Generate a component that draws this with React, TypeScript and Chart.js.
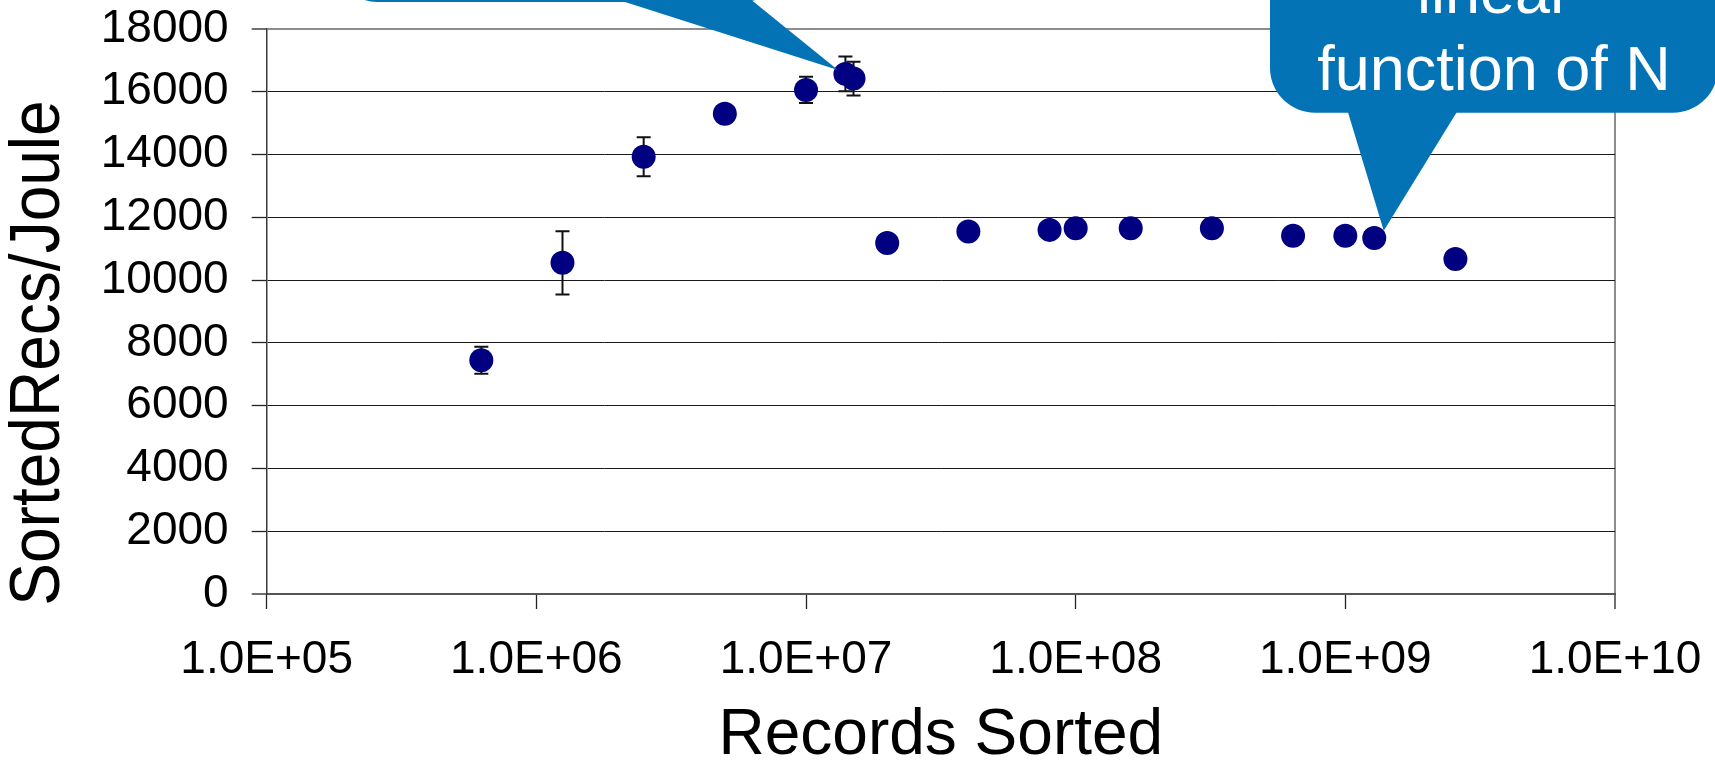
import React, { useEffect, useRef } from "react";
import { Chart, registerables } from "chart.js";

Chart.register(...registerables);

// ---- data ----
const recordsSorted = [
  6.25e5, 1.25e6, 2.5e6, 5e6, 1e7, 1.4e7, 1.5e7, 2e7, 4e7, 8e7, 1e8, 1.6e8,
  3.2e8, 6.4e8, 1e9, 1.28e9, 2.56e9,
];
const sortedRecsPerJoule = [
  7450, 10550, 13930, 15300, 16060, 16570, 16420, 11180, 11550, 11600, 11650,
  11650, 11650, 11410, 11410, 11340, 10670,
];
const errorBar = [
  430, 1010, 620, 200, 420, 550, 540, 150, 150, 150, 150, 150, 150, 150, 150,
  150, 150,
];
const xTickValues = [1e5, 1e6, 1e7, 1e8, 1e9, 1e10];
const xTickLabels = ["1.0E+05", "1.0E+06", "1.0E+07", "1.0E+08", "1.0E+09", "1.0E+10"];
const yMin = 0;
const yMax = 18000;
const yStep = 2000;
const xTitle = "Records Sorted";
const yTitle = "SortedRecs/Joule";
const calloutLines = ["linear", "function of N"];

const FONT = "'Liberation Sans', Arial, Helvetica, sans-serif";
const BLUE = "#0373B5";

function roundRect(ctx: CanvasRenderingContext2D, l: number, t: number, r: number, b: number, rad: number) {
  ctx.beginPath();
  ctx.moveTo(l + rad, t);
  ctx.lineTo(r - rad, t);
  ctx.arcTo(r, t, r, t + rad, rad);
  ctx.lineTo(r, b - rad);
  ctx.arcTo(r, b, r - rad, b, rad);
  ctx.lineTo(l + rad, b);
  ctx.arcTo(l, b, l, b - rad, rad);
  ctx.lineTo(l, t + rad);
  ctx.arcTo(l, t, l + rad, t, rad);
  ctx.closePath();
}

const errorBarPlugin = {
  id: "errorBars",
  beforeDatasetsDraw(chart: any) {
    const { ctx, scales } = chart;
    const xs = scales.x;
    const ys = scales.y;
    ctx.save();
    ctx.strokeStyle = "#111";
    ctx.lineWidth = 2;
    recordsSorted.forEach((n, i) => {
      const e = errorBar[i];
      if (!e) return;
      const px = xs.getPixelForValue(n);
      const top = ys.getPixelForValue(sortedRecsPerJoule[i] + e);
      const bot = ys.getPixelForValue(sortedRecsPerJoule[i] - e);
      ctx.beginPath();
      ctx.moveTo(px, top);
      ctx.lineTo(px, bot);
      ctx.moveTo(px - 7, top);
      ctx.lineTo(px + 7, top);
      ctx.moveTo(px - 7, bot);
      ctx.lineTo(px + 7, bot);
      ctx.stroke();
    });
    ctx.restore();
  },
};

const annotationPlugin = {
  id: "annotations",
  afterDraw(chart: any) {
    const { ctx, scales } = chart;
    const xs = scales.x;
    const ys = scales.y;
    ctx.save();

    // y axis title (rotated, slightly condensed along its length)
    ctx.fillStyle = "#000";
    ctx.font = `70px ${FONT}`;
    ctx.textAlign = "center";
    ctx.textBaseline = "middle";
    const m = ctx.measureText(yTitle);
    const ink = (m.actualBoundingBoxLeft || 0) + (m.actualBoundingBoxRight || m.width);
    const sx = 500 / ink;
    ctx.translate(40, 353);
    ctx.rotate(-Math.PI / 2);
    ctx.scale(sx, 1);
    ctx.fillText(yTitle, 0, 0);
    ctx.setTransform(1, 0, 0, 1, 0, 0);

    ctx.fillStyle = BLUE;
    // callout 1 (top-left, mostly outside the picture)
    const t1x = xs.getPixelForValue(recordsSorted[5]) - 7.5;
    const t1y = ys.getPixelForValue(sortedRecsPerJoule[5]) - 4;
    roundRect(ctx, 337, -200, 783, 2, 40);
    ctx.fill();
    ctx.beginPath();
    ctx.moveTo(600, -6);
    ctx.lineTo(744, -6);
    ctx.lineTo(t1x, t1y);
    ctx.closePath();
    ctx.fill();

    // callout 2 (top-right)
    const t2x = xs.getPixelForValue(recordsSorted[15]) + 9.5;
    const t2y = ys.getPixelForValue(sortedRecsPerJoule[15]) - 7.3;
    roundRect(ctx, 1270, -150, 1718, 112.7, 45);
    ctx.fill();
    ctx.beginPath();
    ctx.moveTo(1346.7, 108);
    ctx.lineTo(1459.3, 108);
    ctx.lineTo(t2x, t2y);
    ctx.closePath();
    ctx.fill();

    ctx.fillStyle = "#fff";
    ctx.font = `63px ${FONT}`;
    ctx.textAlign = "center";
    ctx.textBaseline = "alphabetic";
    ctx.fillText(calloutLines[0], 1494, 13);
    ctx.fillText(calloutLines[1], 1494, 90);
    ctx.restore();
  },
};

function zeroPadding(scale: any) {
  scale.paddingTop = 0;
  scale.paddingBottom = 0;
  scale.paddingLeft = 0;
  scale.paddingRight = 0;
}

export default function App() {
  const ref = useRef<HTMLCanvasElement | null>(null);

  useEffect(() => {
    if (!ref.current) return;
    const yTickCount = Math.round((yMax - yMin) / yStep);
    const chart = new Chart(ref.current, {
      type: "scatter",
      data: {
        datasets: [
          {
            label: yTitle,
            data: recordsSorted.map((n, i) => ({ x: n, y: sortedRecsPerJoule[i] })),
            backgroundColor: "#000080",
            borderWidth: 0,
            pointRadius: 12,
            pointHoverRadius: 12,
            pointStyle: "circle",
          },
        ],
      },
      options: {
        responsive: false,
        animation: false,
        devicePixelRatio: 1,
        events: [],
        layout: { padding: { top: 29, right: 100, bottom: 0, left: 0 } },
        plugins: {
          legend: { display: false },
          tooltip: { enabled: false },
        },
        scales: {
          x: {
            type: "logarithmic",
            min: xTickValues[0],
            max: xTickValues[xTickValues.length - 1],
            afterBuildTicks: (scale: any) => {
              scale.ticks = xTickValues.map((v) => ({ value: v, major: true }));
            },
            afterFit: (scale: any) => {
              scale.height = 168;
              zeroPadding(scale);
            },
            ticks: {
              autoSkip: false,
              maxRotation: 0,
              minRotation: 0,
              padding: 24,
              color: "#000",
              font: { family: FONT, size: 46 },
              callback: (_v: any, i: number) => xTickLabels[i],
            },
            grid: {
              drawOnChartArea: true,
              drawTicks: true,
              tickLength: 15,
              color: (c: any) => (c.index === xTickValues.length - 1 ? "#8c8c8c" : "rgba(0,0,0,0)"),
              lineWidth: (c: any) => (c.index === xTickValues.length - 1 ? 2 : 1),
              tickColor: "#222",
              tickWidth: 1.3,
            },
            border: { display: true, color: "#555", width: 2 },
            title: {
              display: true,
              text: xTitle,
              color: "#000",
              font: { family: FONT, size: 64, lineHeight: 0.8 },
              padding: { top: 0, bottom: 0 },
            },
          },
          y: {
            type: "linear",
            min: yMin,
            max: yMax,
            afterFit: (scale: any) => {
              scale.width = 266.7;
              zeroPadding(scale);
            },
            ticks: {
              stepSize: yStep,
              padding: 23,
              color: "#000",
              font: { family: FONT, size: 46 },
              callback: (v: any) => String(v),
            },
            grid: {
              drawTicks: true,
              tickLength: 15,
              color: (c: any) =>
                c.index === yTickCount ? "#8c8c8c" : c.index === 0 ? "#555" : "#1a1a1a",
              lineWidth: (c: any) => (c.index === yTickCount || c.index === 0 ? 2 : 1),
              tickColor: "#222",
              tickWidth: 1.3,
            },
            border: { display: true, color: "#3a3a3a", width: 1.5 },
            title: { display: false },
          },
        },
      },
      plugins: [errorBarPlugin, annotationPlugin],
    } as any);
    return () => chart.destroy();
  }, []);

  return (
    <div style={{ position: "absolute", left: 0, top: 0, width: 1715, height: 762, background: "#fff" }}>
      <canvas ref={ref} width={1715} height={762} style={{ display: "block" }} />
    </div>
  );
}
